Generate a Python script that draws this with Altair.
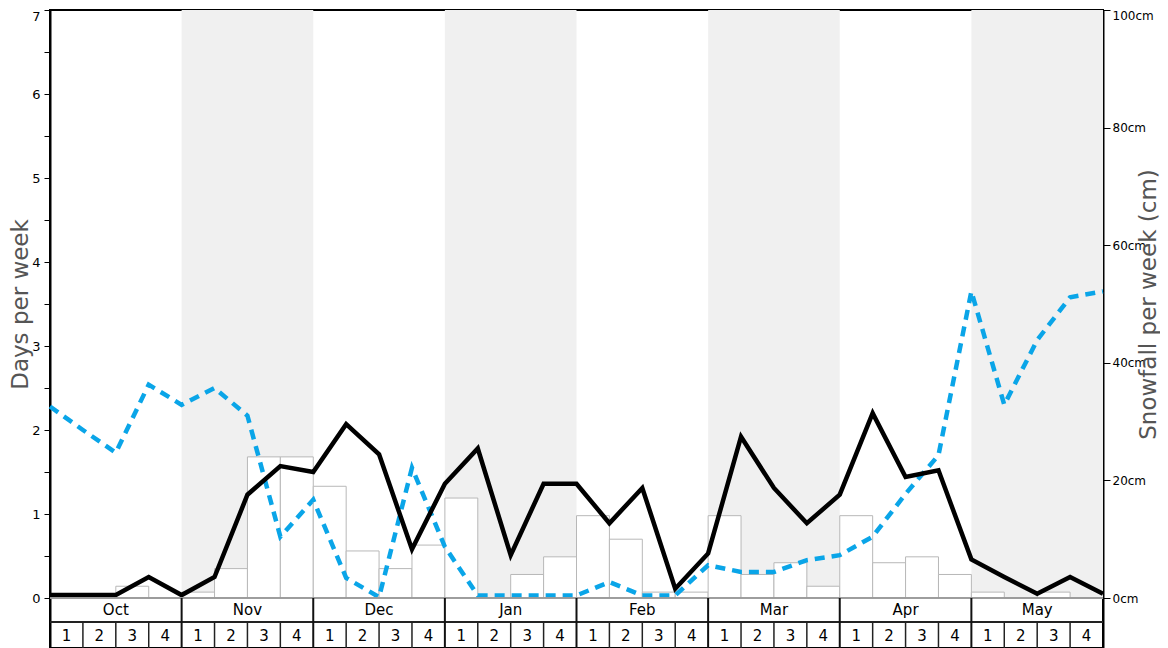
import altair as alt
import pandas as pd

# ---------------- data ----------------
months = ["Oct", "Nov", "Dec", "Jan", "Feb", "Mar", "Apr", "May"]
week_labels = ["1", "2", "3", "4"]
shaded_months = ["Nov", "Jan", "Mar", "May"]

# weekly snowfall (cm), one bar per week
snowfall_cm = [0, 0, 2, 0, 1, 5, 24, 24, 19, 8, 5, 9, 17, 0, 4, 7,
               14, 10, 1, 1, 14, 4, 6, 2, 14, 6, 7, 4, 1, 0, 1, 0]

# days per week, points at week boundaries (33 points)
black_days = [0.035, 0.035, 0.035, 0.25, 0.035, 0.25, 1.23, 1.57, 1.50,
              2.07, 1.71, 0.58, 1.36, 1.78, 0.51, 1.36, 1.36, 0.89, 1.31,
              0.11, 0.53, 1.92, 1.31, 0.89, 1.23, 2.20, 1.44, 1.52, 0.46,
              0.25, 0.05, 0.25, 0.05]
blue_days = [2.28, 2.00, 1.73, 2.54, 2.30, 2.50, 2.17, 0.73, 1.17, 0.24,
             0.01, 1.55, 0.61, 0.03, 0.03, 0.03, 0.03, 0.19, 0.03, 0.03,
             0.39, 0.31, 0.31, 0.45, 0.51, 0.73, 1.24, 1.70, 3.65, 2.30,
             3.07, 3.58, 3.65]

# ---------------- layout ----------------
W = 1053
H_PLOT = 588
H_TABLE = 50
H = H_PLOT + H_TABLE
LEFT_MAX = 7
RIGHT_MAX = 100
left_min = -LEFT_MAX * H_TABLE / H_PLOT
right_min = -RIGHT_MAX * H_TABLE / H_PLOT
FONT = "DejaVu Sans"

n_weeks = len(months) * len(week_labels)
xscale = alt.Scale(domain=[0, n_weeks], nice=False, zero=False)
yleft = alt.Scale(domain=[left_min, LEFT_MAX], nice=False, zero=False)
yright = alt.Scale(domain=[right_min, RIGHT_MAX], nice=False, zero=False)

bars_df = pd.DataFrame({"start": list(range(n_weeks)),
                        "end": [i + 1 for i in range(n_weeks)],
                        "snow": snowfall_cm})
lines_df = pd.DataFrame({"pos": list(range(n_weeks + 1)),
                         "black": black_days, "blue": blue_days})
band_df = pd.DataFrame({"start": [4 * months.index(m) for m in shaded_months],
                        "end": [4 * months.index(m) + 4 for m in shaded_months]})
month_df = pd.DataFrame({"name": months,
                         "center": [4 * k + 2 for k in range(len(months))]})
week_df = pd.DataFrame({"label": week_labels * len(months),
                        "center": [i + 0.5 for i in range(n_weeks)]})
month_sep_df = pd.DataFrame({"pos": [4 * k for k in range(1, len(months))]})
week_sep_df = pd.DataFrame({"pos": [i for i in range(1, n_weeks) if i % 4 != 0]})

X = lambda f: alt.X(f, scale=xscale, axis=None)

bands = alt.Chart(band_df).mark_rect(color="#f0f0f0").encode(
    x=X("start:Q"), x2="end:Q", y=alt.value(0), y2=alt.value(H_PLOT))

bars = alt.Chart(bars_df).mark_rect(fill="white", stroke="#b8b8b8", strokeWidth=1).encode(
    x=X("start:Q"), x2="end:Q",
    y=alt.Y("snow:Q", scale=yright,
            axis=alt.Axis(orient="right", values=[0, 20, 40, 60, 80, 100],
                          labelExpr="datum.value + 'cm'", grid=False,
                          domainColor="black", domainWidth=2,
                          tickColor="black", tickSize=7,
                          labelFont=FONT, labelFontSize=12, labelColor="black",
                          labelPadding=2, labelFlush=True,
                          title="Snowfall per week (cm)", titleFont=FONT,
                          titleFontSize=23, titleFontWeight="normal",
                          titleColor="#555", titleAngle=270,
                          titleX=45, titleY=294, titleAlign="center",
                          titleBaseline="middle")),
    y2=alt.datum(0))

blue = alt.Chart(lines_df).mark_line(color="#0aa5e8", strokeWidth=4.5,
                                     strokeDash=[10, 7]).encode(
    x=X("pos:Q"), y=alt.Y("blue:Q", scale=yleft, axis=None))

black = alt.Chart(lines_df).mark_line(color="black", strokeWidth=4.5).encode(
    x=X("pos:Q"),
    y=alt.Y("black:Q", scale=yleft,
            axis=alt.Axis(orient="left",
                          values=[v / 2 for v in range(0, 2 * LEFT_MAX + 1)],
                          labelExpr="datum.value % 1 === 0 ? format(datum.value, 'd') : ''",
                          grid=False, domainColor="black", domainWidth=2,
                          tickColor="black", tickSize=6,
                          labelFont=FONT, labelFontSize=13, labelColor="black",
                          labelPadding=4, labelFlush=True,
                          title="Days per week", titleFont=FONT,
                          titleFontSize=23, titleFontWeight="normal",
                          titleColor="#555", titleAngle=270,
                          titleX=-30, titleY=294, titleAlign="center",
                          titleBaseline="middle")))

zero_rule = alt.Chart(band_df).mark_rule(color="#999", strokeWidth=1).encode(
    x=alt.value(0), x2=alt.value(W), y=alt.value(H_PLOT))
row_rule = alt.Chart(band_df).mark_rule(color="#222", strokeWidth=2).encode(
    x=alt.value(0), x2=alt.value(W), y=alt.value(H_PLOT + 24))
month_seps = alt.Chart(month_sep_df).mark_rule(color="#111", strokeWidth=2).encode(
    x=X("pos:Q"), y=alt.value(H_PLOT), y2=alt.value(H))
week_seps = alt.Chart(week_sep_df).mark_rule(color="#222", strokeWidth=1.5).encode(
    x=X("pos:Q"), y=alt.value(H_PLOT + 24), y2=alt.value(H))
month_text = alt.Chart(month_df).mark_text(font=FONT, fontSize=15, color="black",
                                           baseline="middle").encode(
    x=X("center:Q"), y=alt.value(H_PLOT + 12), text="name:N")
week_text = alt.Chart(week_df).mark_text(font=FONT, fontSize=15, color="black",
                                         baseline="middle").encode(
    x=X("center:Q"), y=alt.value(H_PLOT + 38), text="label:N")

chart = alt.layer(
    bands, bars, blue, black, zero_rule, row_rule, month_seps, week_seps,
    month_text, week_text
).resolve_scale(y="independent").properties(
    width=W, height=H,
    autosize=alt.AutoSizeParams(type="none"),
    padding={"left": 42, "top": 2, "right": 57, "bottom": 0},
).configure_view(stroke="black", strokeWidth=2)

chart.save("out.html", embed_options={"renderer": "svg", "actions": False})
